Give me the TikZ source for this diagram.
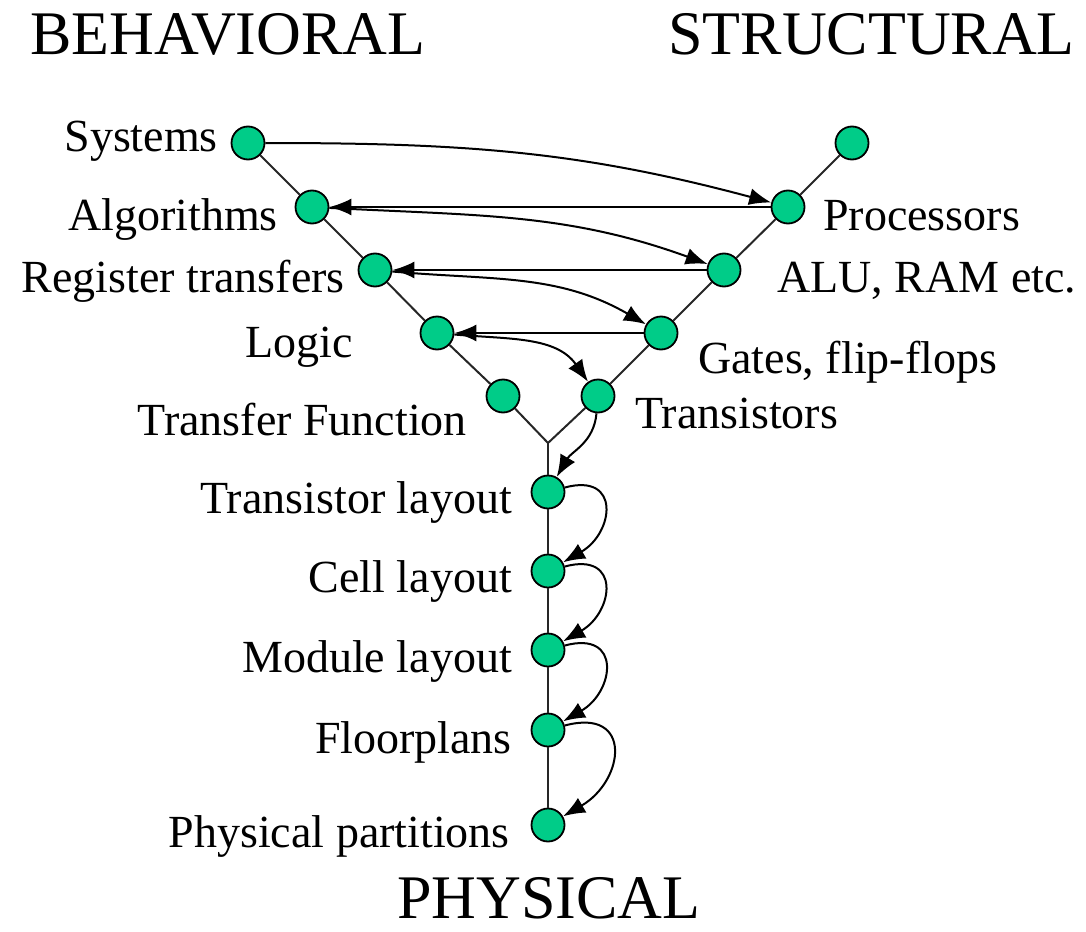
\documentclass[tikz,border=0pt]{standalone}
\usepackage{fontspec}
\setmainfont{Liberation Serif}
\usetikzlibrary{arrows.meta}
\definecolor{dotgreen}{RGB}{0,204,136}
\tikzset{
  dot/.style={circle, draw=black, line width=1.8pt, fill=dotgreen, minimum size=33pt, inner sep=0pt},
  lbl/.style={font=\rmfamily\fontsize{46}{50}\selectfont, inner sep=0pt},
  ttl/.style={font=\rmfamily\fontsize{62}{66}\selectfont, inner sep=0pt},
  arm/.style={line width=2pt, black!85},
  flow/.style={line width=2pt, -{Latex[length=22pt,width=17pt]}}
}
\begin{document}
\begin{tikzpicture}[x=1pt, y=1pt]
  \useasboundingbox (0,0) rectangle (1086,-931);
  % titles
  \node[ttl, anchor=base west] (beh) at (30,-55) {BEHAVIORAL};
  \node[ttl, anchor=base east] (str) at (1075,-55) {STRUCTURAL};
  \node[ttl, anchor=base] (phy) at (549,-918) {PHYSICAL};
  % behavioral arm
  \node[dot] (sys) at (248,-143) {};
  \node[dot] (alg) at (312,-207) {};
  \node[dot] (reg) at (375,-270) {};
  \node[dot] (lgc) at (437,-333) {};
  \node[dot] (tf)  at (503,-396) {};
  % structural arm
  \node[dot] (top) at (852,-143) {};
  \node[dot] (proc) at (788,-207) {};
  \node[dot] (alu) at (724,-270) {};
  \node[dot] (gat) at (661,-333) {};
  \node[dot] (tra) at (598,-396) {};
  % physical arm
  \coordinate (mid) at (548,-443);
  \node[dot] (tl) at (548,-492) {};
  \node[dot] (cl) at (548,-571) {};
  \node[dot] (ml) at (548,-650) {};
  \node[dot] (fp) at (548,-730) {};
  \node[dot] (pp) at (548,-825) {};
  % labels
  \node[lbl, anchor=base east] (sys-l) at (218,-151) {Systems};
  \node[lbl, anchor=base east] (alg-l) at (278,-230) {Algorithms};
  \node[lbl, anchor=base east] (reg-l) at (345,-292) {Register transfers};
  \node[lbl, anchor=base east] (lgc-l) at (353,-357) {Logic};
  \node[lbl, anchor=base east] (tf-l)  at (467,-435) {Transfer Function};
  \node[lbl, anchor=base west] (proc-l) at (823,-230) {Processors};
  \node[lbl, anchor=base west] (alu-l) at (777,-292) {ALU, RAM etc.};
  \node[lbl, anchor=base west] (gat-l) at (698,-373) {Gates, flip-flops};
  \node[lbl, anchor=base west] (tra-l) at (635,-428) {Transistors};
  \node[lbl, anchor=base east] (tl-l) at (512,-513) {Transistor layout};
  \node[lbl, anchor=base east] (cl-l) at (512,-592) {Cell layout};
  \node[lbl, anchor=base east] (ml-l) at (512,-672) {Module layout};
  \node[lbl, anchor=base east] (fp-l) at (512,-753) {Floorplans};
  \node[lbl, anchor=base east] (pp-l) at (510,-847) {Physical partitions};
  % the Y
  \draw[arm] (sys) -- (alg) -- (reg) -- (lgc) -- (tf) -- (mid);
  \draw[arm] (top) -- (proc) -- (alu) -- (gat) -- (tra) -- (mid);
  \draw[arm] (mid) -- (tl) -- (cl) -- (ml) -- (fp) -- (pp);
  % zig-zag between the arms
  \draw[flow] (sys) to[out=0, in=165] (proc);
  \draw[flow] (proc) -- (alg);
  \draw[flow] (alg) to[out=-3, in=160] (alu);
  \draw[flow] (alu) -- (reg);
  \draw[flow] (reg) to[out=-5, in=150] (gat);
  \draw[flow] (gat) -- (lgc);
  \draw[flow] (lgc) to[out=-5, in=125] (tra);
  \draw[flow] (tra) to[out=-95, in=60] (tl);
  % down the physical arm
  \foreach \a/\b in {tl/cl, cl/ml, ml/fp, fp/pp}
    \draw[flow] (\a) to[out=15, in=30, looseness=2] (\b);
\end{tikzpicture}
\end{document}
